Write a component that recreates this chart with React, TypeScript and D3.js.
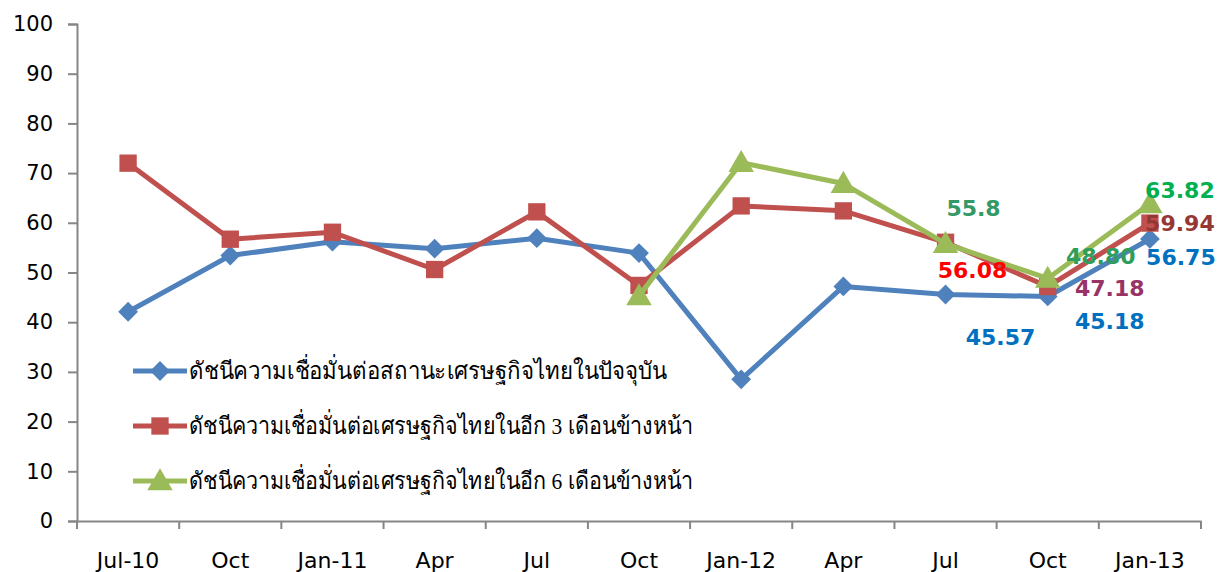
import * as d3 from 'd3';
import { useRef, useEffect } from "react"

// categories (quarters)
const categories = ["Jul-10", "Oct", "Jan-11", "Apr", "Jul", "Oct ", "Jan-12", "Apr ", "Jul ", "Oct  ", "Jan-13"]
const yTicks = [0, 10, 20, 30, 40, 50, 60, 70, 80, 90, 100]

const seriesNames = [
    "ดัชนีความเชื่อมั่นต่อสถานะเศรษฐกิจไทยในปัจจุบัน",
    "ดัชนีความเชื่อมั่นต่อเศรษฐกิจไทยในอีก 3 เดือนข้างหน้า",
    "ดัชนีความเชื่อมั่นต่อเศรษฐกิจไทยในอีก 6 เดือนข้างหน้า",
]
const currentIdx = [42.1, 53.4, 56.2, 54.8, 56.9, 53.9, 28.5, 47.2, 45.57, 45.18, 56.75]
const threeMonthIdx = [72.0, 56.7, 58.1, 50.6, 62.2, 47.4, 63.4, 62.4, 56.08, 47.18, 59.94]
const sixMonthIdx = [null, null, null, null, null, 45.3, 72.1, 67.9, 55.8, 48.80, 63.82]

// data labels: [series, point index, text]
const labelSeries = [2, 1, 0, 2, 1, 0, 2, 1, 0]
const labelPoint = [8, 8, 8, 9, 9, 9, 10, 10, 10]
const labelText = ["55.8", "56.08", "45.57", "48.80", "47.18", "45.18", "63.82", "59.94", "56.75"]

function App() {
    const ref = useRef<SVGSVGElement | null>(null)

    useEffect(() => {
        renderChart();
    }, [])

    function renderChart() {
        const svg = d3.select(ref.current!)
        svg.selectAll("*").remove()

        const x = d3.scaleBand().domain(categories).range([77, 1201])
        const y = d3.scaleLinear().domain([0, 100]).range([521, 24])
        const cx = (i: number) => x(categories[i])! + x.bandwidth() / 2

        const axisColor = "#868686"

        // Y axis
        const yAxis = svg.append("g")
            .attr("transform", "translate(77,0)")
            .call(d3.axisLeft(y).tickValues(yTicks).tickSize(9).tickPadding(15))
        yAxis.selectAll("line,path").attr("stroke", axisColor).attr("stroke-width", 2)
        yAxis.selectAll("text")
            .attr("font-family", "DejaVu Sans, sans-serif")
            .attr("font-size", 21)
            .attr("fill", "#000")

        // X axis
        const xAxis = svg.append("g")
            .attr("transform", "translate(0,521)")
            .call(d3.axisBottom(x).tickSize(0).tickPadding(31))
        xAxis.selectAll("path").attr("stroke", axisColor).attr("stroke-width", 2)
        xAxis.selectAll("text")
            .attr("font-family", "DejaVu Sans, sans-serif")
            .attr("font-size", 22)
            .attr("fill", "#000")
            .text((d: any) => d.trim())
        // tick marks between categories
        const bounds = d3.range(categories.length + 1).map(i => x.range()[0] + i * x.step())
        svg.append("g").selectAll("line")
            .data(bounds)
            .enter()
            .append("line")
            .attr("x1", d => d).attr("x2", d => d)
            .attr("y1", 521).attr("y2", 529)
            .attr("stroke", axisColor).attr("stroke-width", 2)

        const series = [currentIdx, threeMonthIdx, sixMonthIdx]
        const colors = ["#4F81BD", "#C0504D", "#9BBB59"]
        const symbols = [d3.symbolDiamond2, d3.symbolSquare, d3.symbolTriangle]
        const symSizes = [250, 300, 280]

        const line = d3.line<number | null>()
            .defined(d => d != null)
            .x((_, i) => cx(i))
            .y(d => y(d as number))

        series.forEach((s, k) => {
            svg.append("path")
                .datum(s)
                .attr("d", line)
                .attr("fill", "none")
                .attr("stroke", colors[k])
                .attr("stroke-width", 5)
                .attr("stroke-linejoin", "round")
            svg.append("g").selectAll("path")
                .data(s.map((v, i) => ({ v, i })).filter(d => d.v != null))
                .enter()
                .append("path")
                .attr("d", d3.symbol().type(symbols[k]).size(symSizes[k]))
                .attr("transform", d => "translate(" + cx(d.i) + "," + (y(d.v as number) + (k == 2 ? 2 : 0)) + ")")
                .attr("fill", colors[k])
        })

        // data labels
        const labelColors = ["#339966", "#FF0000", "#0070C0", "#2E9E5A", "#993366", "#0070C0", "#00B050", "#953735", "#0070C0"]
        const labelDx = [28, 27, 55, 53, 62, 62, 30, 30, 31]
        const labelDy = [-36, 28, 43, -22, 2, 25, -14, 0, 18]
        svg.append("g").selectAll("text")
            .data(labelText)
            .enter()
            .append("text")
            .attr("x", (_, i) => cx(labelPoint[i]) + labelDx[i])
            .attr("y", (_, i) => y(series[labelSeries[i]][labelPoint[i]] as number) + labelDy[i])
            .attr("dy", "0.36em")
            .attr("text-anchor", "middle")
            .attr("font-family", "DejaVu Sans, Verdana, sans-serif")
            .attr("font-weight", "bold")
            .attr("font-size", 22)
            .attr("fill", (_, i) => labelColors[i])
            .text(d => d)

        // legend
        const legendY = [371, 426, 481]
        const legendW = [478, 504, 504]
        seriesNames.forEach((name, k) => {
            const g = svg.append("g").attr("transform", "translate(0," + legendY[k] + ")")
            g.append("line")
                .attr("x1", 133).attr("x2", 187)
                .attr("stroke", colors[k]).attr("stroke-width", 5)
            g.append("path")
                .attr("d", d3.symbol().type(symbols[k]).size(symSizes[k]))
                .attr("transform", "translate(160," + (k == 2 ? 2 : 0) + ")")
                .attr("fill", colors[k])
            g.append("text")
                .attr("x", 189)
                .attr("y", 0)
                .attr("dy", "0.35em")
                .attr("font-family", "Liberation Serif, DejaVu Serif, serif")
                .attr("font-size", 24)
                .attr("fill", "#000")
                .attr("textLength", legendW[k])
                .attr("lengthAdjust", "spacingAndGlyphs")
                .text(name)
        })
    }

    return (
        <svg
            width={1223}
            height={572}
            ref={ref}
            style={{ position: 'absolute', left: 0, top: 0, background: '#fff' }}
        />
    )
}

export default App;
